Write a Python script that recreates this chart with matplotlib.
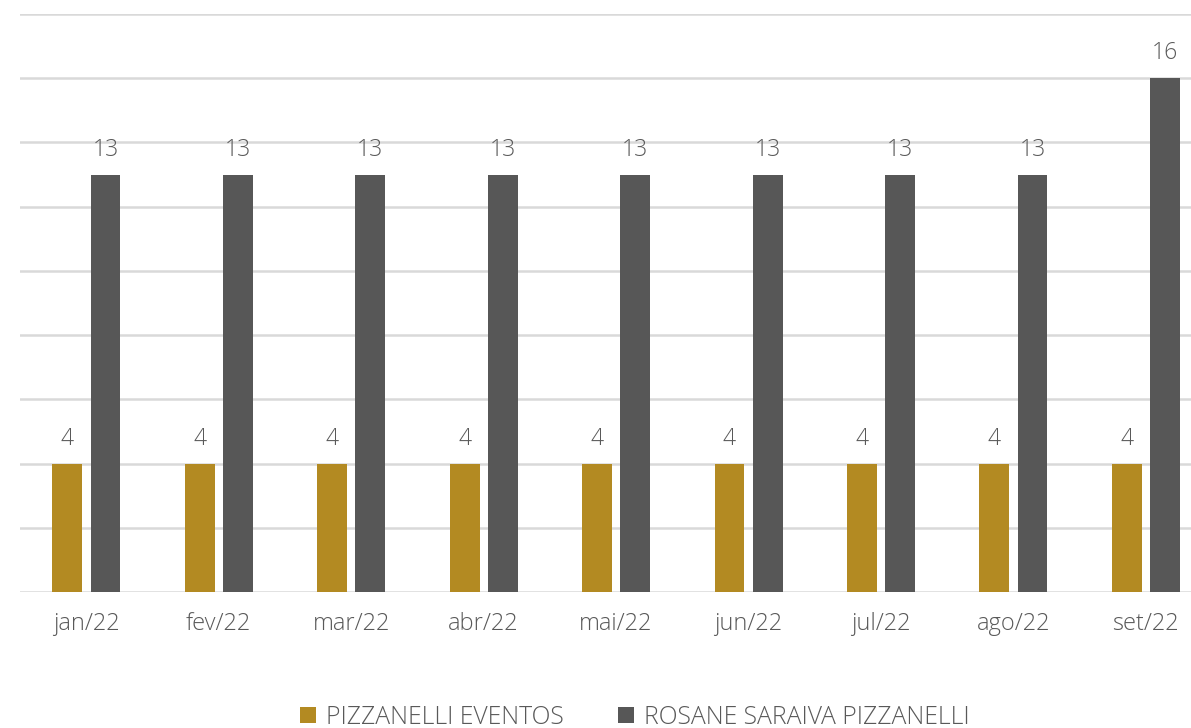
import matplotlib.pyplot as plt
import numpy as np

months = ['jan/22', 'fev/22', 'mar/22', 'abr/22', 'mai/22', 'jun/22', 'jul/22', 'ago/22', 'set/22']
eventos = [4, 4, 4, 4, 4, 4, 4, 4, 4]
rosane = [13, 13, 13, 13, 13, 13, 13, 13, 16]
series_names = ['PIZZANELLI EVENTOS', 'ROSANE SARAIVA PIZZANELLI']

gold = '#b38a22'
dark = '#575757'
text_c = '#595959'

plt.rcParams['font.family'] = ['Open Sans', 'DejaVu Sans']
plt.rcParams['font.weight'] = 'light'

fig = plt.figure(figsize=(11.91, 7.28), dpi=100)
ax = fig.add_axes([20 / 1191, 136 / 728, 1192 / 1191, 578 / 728])

x = np.arange(len(months))
w = 0.225
b1 = ax.bar(x - 0.143, eventos, w, color=gold, zorder=3, label=series_names[0])
b2 = ax.bar(x + 0.145, rosane, w, color=dark, zorder=3, label=series_names[1])

# value labels above each bar
for bars in (b1, b2):
    for r in bars:
        ax.text(r.get_x() + r.get_width() / 2, r.get_height() + 0.4, f'{int(r.get_height())}',
                ha='center', va='bottom', fontsize=16.5, color=text_c)

ax.set_xlim(-0.5, 8.5)
ax.set_ylim(0, 18)
ax.set_yticks(np.arange(0, 19, 2))
ax.yaxis.grid(True, color='#d9d9d9', linewidth=1.8, zorder=0)
ax.tick_params(axis='y', left=False, labelleft=False)
ax.tick_params(axis='x', bottom=False, pad=11)
ax.set_xticks(x)
ax.set_xticklabels(months, fontsize=17, color=text_c)
for s in ax.spines.values():
    s.set_visible(False)

fig.legend(handles=[b1, b2], loc='center', bbox_to_anchor=(0.533, 0.015), ncol=2,
           frameon=False, labelcolor=text_c, handlelength=0.65, handleheight=0.65,
           handletextpad=0.4, columnspacing=2.2, prop={'size': 17.8})

fig.savefig('out.png', dpi=100)
